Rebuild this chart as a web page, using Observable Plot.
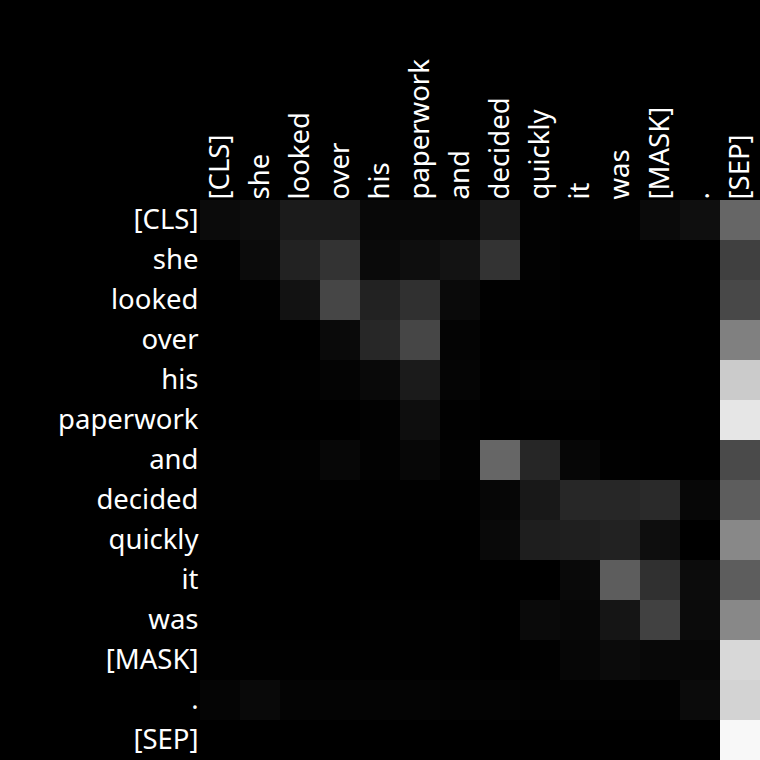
<!DOCTYPE html>
<html>
<head>
<meta charset="utf-8">
<script src="https://cdn.jsdelivr.net/npm/d3@7"></script>
<script src="https://cdn.jsdelivr.net/npm/@observablehq/plot@0.6"></script>
<style>
  html, body { margin: 0; padding: 0; background: #000; }
  #chart { width: 760px; height: 760px; }
</style>
</head>
<body>
<div id="chart"></div>
<script>
const tokens = ["[CLS]", "she", "looked", "over", "his", "paperwork", "and", "decided", "quickly", "it", "was", "[MASK]", ".", "[SEP]"];

// attention weights: row = query token, column = key token
const w_cls       = [0.043, 0.051, 0.106, 0.106, 0.031, 0.031, 0.027, 0.102, 0.008, 0.004, 0.008, 0.039, 0.059, 0.400];
const w_she       = [0.004, 0.043, 0.133, 0.200, 0.039, 0.055, 0.075, 0.200, 0.008, 0.000, 0.000, 0.000, 0.000, 0.251];
const w_looked    = [0.000, 0.004, 0.071, 0.275, 0.133, 0.188, 0.039, 0.004, 0.004, 0.000, 0.000, 0.000, 0.000, 0.282];
const w_over      = [0.000, 0.000, 0.000, 0.039, 0.153, 0.275, 0.016, 0.000, 0.000, 0.000, 0.000, 0.000, 0.000, 0.502];
const w_his       = [0.000, 0.000, 0.004, 0.016, 0.035, 0.106, 0.020, 0.000, 0.008, 0.008, 0.000, 0.000, 0.000, 0.796];
const w_paperwork = [0.000, 0.000, 0.000, 0.000, 0.008, 0.055, 0.004, 0.000, 0.000, 0.000, 0.000, 0.000, 0.000, 0.902];
const w_and       = [0.004, 0.004, 0.008, 0.027, 0.008, 0.027, 0.008, 0.400, 0.149, 0.024, 0.004, 0.000, 0.000, 0.290];
const w_decided   = [0.004, 0.004, 0.004, 0.004, 0.004, 0.004, 0.004, 0.024, 0.094, 0.153, 0.153, 0.165, 0.027, 0.365];
const w_quickly   = [0.000, 0.000, 0.000, 0.000, 0.000, 0.000, 0.000, 0.035, 0.118, 0.122, 0.133, 0.055, 0.000, 0.533];
const w_it        = [0.000, 0.000, 0.000, 0.000, 0.000, 0.000, 0.000, 0.000, 0.000, 0.035, 0.365, 0.188, 0.047, 0.365];
const w_was       = [0.000, 0.000, 0.000, 0.000, 0.004, 0.004, 0.004, 0.000, 0.039, 0.027, 0.082, 0.255, 0.043, 0.533];
const w_mask      = [0.004, 0.004, 0.004, 0.004, 0.004, 0.004, 0.004, 0.000, 0.004, 0.024, 0.043, 0.031, 0.027, 0.847];
const w_period    = [0.020, 0.035, 0.016, 0.016, 0.016, 0.016, 0.012, 0.012, 0.008, 0.008, 0.008, 0.008, 0.043, 0.827];
const w_sep       = [0.000, 0.000, 0.000, 0.000, 0.000, 0.000, 0.000, 0.000, 0.000, 0.000, 0.000, 0.000, 0.000, 0.973];

const rows = [w_cls, w_she, w_looked, w_over, w_his, w_paperwork, w_and, w_decided, w_quickly, w_it, w_was, w_mask, w_period, w_sep];

const table = [];
rows.forEach((r, i) => r.forEach((v, j) => table.push({query: tokens[i], key: tokens[j], weight: v})));

const chart = Plot.plot({
  width: 760,
  height: 760,
  marginLeft: 200,
  marginTop: 200,
  marginRight: 0,
  marginBottom: 0,
  style: {background: "#000", color: "#fff", fontFamily: "'Noto Sans', 'Open Sans', sans-serif", fontSize: "27.5px"},
  x: {domain: tokens, axis: "top", tickRotate: -90, tickSize: 0, tickPadding: 1, label: null, padding: 0},
  y: {domain: tokens, tickSize: 0, tickPadding: 2, label: null, padding: 0},
  color: {type: "linear", domain: [0, 1], range: ["#000000", "#ffffff"], interpolate: "rgb"},
  marks: [
    Plot.cell(table, {x: "key", y: "query", fill: "weight", shapeRendering: "crispEdges"})
  ]
});
document.getElementById("chart").appendChild(chart);
</script>
</body>
</html>
